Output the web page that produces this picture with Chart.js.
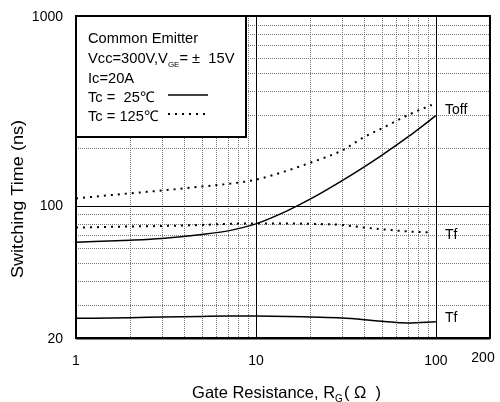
<!DOCTYPE html>
<html>
<head>
<meta charset="utf-8">
<script src="https://cdn.jsdelivr.net/npm/chart.js@4.4.0/dist/chart.umd.min.js"></script>
<style>
  html, body { margin: 0; padding: 0; background: #fff; }
  canvas { display: block; }
</style>
</head>
<body>
<canvas id="chart" width="500" height="402"></canvas>
<script>
// gate resistance (ohm) and switching times (ns)
const rg25 = [1, 2, 3, 5, 7, 10, 15, 20, 30, 40, 50, 70, 100];
const toff25 = [64, 65.6, 67, 70.3, 73.5, 80, 94, 108, 135, 160, 184, 230, 298];
const tf25 = [25.4, 25.6, 25.8, 26, 26.1, 26.1, 26, 25.8, 25.5, 25, 24.5, 24, 24.4];

const rg125 = [1, 2, 3, 5, 7, 10, 15, 20, 30, 40, 50, 70, 95];
const toff125 = [109, 116, 120, 126, 130, 137, 153, 168, 195, 230, 255, 300, 340];
const tf125 = [76.5, 77.5, 78, 79, 80, 80.5, 80.5, 80, 79, 76.5, 75, 73, 72];

const xTicks = [1, 10, 100, 200];
const yTicks = [20, 100, 1000];
const xMinor = [2, 3, 4, 5, 6, 7, 8, 9, 20, 30, 40, 50, 60, 70, 80, 90];
const yMinor = [30, 40, 50, 60, 70, 80, 90, 200, 300, 400, 500, 600, 700, 800, 900];
const xMajor = [10, 100];
const yMajor = [100];

const FONT = '"Liberation Sans", Arial, sans-serif';

function pts(xs, ys) {
    return xs.map((x, i) => ({ x: x, y: ys[i] }));
}

function solid(data) {
    return { data: data, borderColor: "#000", borderWidth: 1.5, pointRadius: 0,
             showLine: true, fill: false, cubicInterpolationMode: "monotone" };
}
function dotted(data) {
    return { data: data, borderColor: "#000", borderWidth: 2, borderDash: [2, 5],
             pointRadius: 0, showLine: true, fill: false, cubicInterpolationMode: "monotone" };
}

// grid, frame, legend box and all texts
const decor = {
    id: "decor",
    beforeDatasetsDraw(chart) {
        const { ctx, chartArea: a, scales: { x, y } } = chart;
        ctx.save();
        ctx.lineWidth = 1;
        ctx.strokeStyle = "#777";
        ctx.setLineDash([1, 1]);
        xMinor.forEach(v => {
            const px = Math.round(x.getPixelForValue(v)) + 0.5;
            ctx.beginPath(); ctx.moveTo(px, a.top); ctx.lineTo(px, a.bottom); ctx.stroke();
        });
        yMinor.forEach(v => {
            const py = Math.round(y.getPixelForValue(v)) + 0.5;
            ctx.beginPath(); ctx.moveTo(a.left, py); ctx.lineTo(a.right, py); ctx.stroke();
        });
        ctx.setLineDash([]);
        ctx.strokeStyle = "#000";
        xMajor.forEach(v => {
            const px = Math.round(x.getPixelForValue(v)) + 0.5;
            ctx.beginPath(); ctx.moveTo(px, a.top); ctx.lineTo(px, a.bottom); ctx.stroke();
        });
        yMajor.forEach(v => {
            const py = Math.round(y.getPixelForValue(v)) + 0.5;
            ctx.beginPath(); ctx.moveTo(a.left, py); ctx.lineTo(a.right, py); ctx.stroke();
        });

        // legend box
        ctx.fillStyle = "#fff";
        ctx.fillRect(a.left, a.top, 170, 121);
        ctx.lineWidth = 2;
        ctx.strokeRect(a.left, a.top, 170, 121);
        ctx.restore();
    },
    afterDraw(chart) {
        const { ctx, chartArea: a, scales: { x, y } } = chart;
        ctx.save();
        ctx.strokeStyle = "#000";
        ctx.lineWidth = 2;
        ctx.strokeRect(a.left, a.top, a.right - a.left, a.bottom - a.top);
        ctx.beginPath(); ctx.moveTo(a.left, a.bottom + 0.5); ctx.lineTo(a.right, a.bottom + 0.5); ctx.stroke();

        ctx.fillStyle = "#000";
        ctx.font = "14px " + FONT;
        ctx.textBaseline = "middle";

        // tick labels
        ctx.textAlign = "right";
        yTicks.forEach(v => ctx.fillText(String(v), 63, y.getPixelForValue(v) + 1));
        ctx.textAlign = "center";
        xTicks.forEach(v => {
            const dy = v === 200 ? 358 : 361;
            const dx = v === 200 ? -7 : 0;
            ctx.fillText(String(v), x.getPixelForValue(v) + dx, dy);
        });

        // curve labels
        ctx.textAlign = "left";
        ctx.fillText("Toff", 445, 110);
        ctx.fillText("Tf", 445, 235);
        ctx.fillText("Tf", 445, 318);

        // legend text
        const big = "14.7px " + FONT;
        ctx.font = big;
        const lx = 88;
        ctx.fillText("Common Emitter", lx, 39);
        let s = "Vcc=300V,V";
        ctx.fillText(s, lx, 59);
        let cx = lx + ctx.measureText(s).width;
        ctx.font = "8px " + FONT;
        ctx.fillText("GE", cx, 65);
        cx += ctx.measureText("GE").width;
        ctx.font = big;
        ctx.fillText("= \u00b1  15V", cx, 59);
        ctx.fillText("Ic=20A", lx, 79);
        ctx.fillText("Tc =  25\u2103", lx, 98);
        ctx.fillText("Tc = 125\u2103", lx, 117);

        ctx.lineWidth = 1.5;
        ctx.beginPath(); ctx.moveTo(168, 95); ctx.lineTo(208, 95); ctx.stroke();
        ctx.lineWidth = 2;
        ctx.setLineDash([2, 5]);
        ctx.beginPath(); ctx.moveTo(168, 114); ctx.lineTo(208, 114); ctx.stroke();
        ctx.setLineDash([]);

        // x axis title
        const tf = "16.5px " + FONT, sf = "10px " + FONT;
        const t1 = "Gate Resistance, R", t3 = "( \u03a9  )";
        ctx.font = tf;
        const w1 = ctx.measureText(t1).width, w3 = ctx.measureText(t3).width;
        ctx.font = sf;
        const w2 = ctx.measureText("G").width;
        let sx = 286 - (w1 + w2 + w3) / 2;
        ctx.font = tf;
        ctx.fillText(t1, sx, 393);
        ctx.font = sf;
        ctx.fillText("G", sx + w1, 399);
        ctx.font = tf;
        ctx.fillText(t3, sx + w1 + w2 + 1, 393);

        // y axis title
        const yt = "Switching Time (ns)";
        ctx.font = "16.5px " + FONT;
        const wy = ctx.measureText(yt).width;
        ctx.translate(18, 199);
        ctx.rotate(-Math.PI / 2);
        ctx.scale(158 / wy, 1);
        ctx.textAlign = "center";
        ctx.fillText(yt, 0, 0);
        ctx.restore();
    }
};

const ctx = document.getElementById("chart").getContext("2d");
// eslint-disable-next-line no-unused-vars
let chart = new Chart(ctx, {
    type: "scatter",
    data: {
        datasets: [
            solid(pts(rg25, toff25)),
            solid(pts(rg25, tf25)),
            dotted(pts(rg125, toff125)),
            dotted(pts(rg125, tf125))
        ]
    },
    options: {
        responsive: false,
        animation: false,
        layout: { padding: { left: 76, top: 16, right: 10, bottom: 64 } },
        plugins: { legend: { display: false }, tooltip: { enabled: false } },
        scales: {
            x: { type: "logarithmic", min: 1, max: 200, display: false },
            y: { type: "logarithmic", min: 20, max: 1000, display: false }
        }
    },
    plugins: [decor]
});
</script>
</body>
</html>
